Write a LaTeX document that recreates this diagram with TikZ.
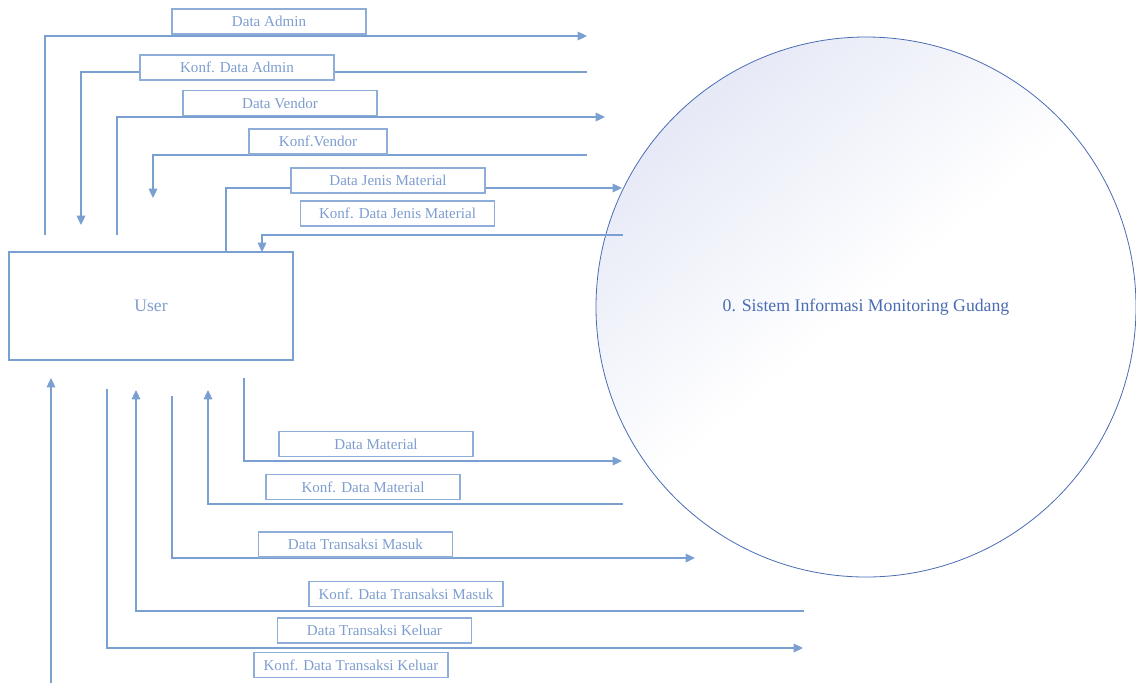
\documentclass[tikz,border=0pt]{standalone}
\usepackage{fontspec}
\setmainfont{Liberation Serif}
\usetikzlibrary{positioning,arrows.meta}
\definecolor{flowblue}{HTML}{7AA0D2}
\definecolor{textblue}{HTML}{7E9ED0}
\definecolor{procblue}{HTML}{4A6CB3}
\definecolor{procfill}{HTML}{E6E9F6}

\begin{document}
\begin{tikzpicture}[x=0.75pt,y=-0.75pt,>={Triangle[length=7pt,width=6.5pt]},
  flow/.style={draw=flowblue,line width=0.9pt},
  lbl/.style={draw=flowblue!85,fill=white,text=textblue,line width=0.8pt,
    minimum width=145.5pt,minimum height=18.75pt,inner sep=0pt,
    font=\fontsize{11.3}{13}\selectfont}]
\useasboundingbox (0,0) rectangle (1136,683);

  % Entity and process
  \node (P) [circle,draw=procblue,line width=0.6pt,minimum size=405pt,
    top color=procfill,bottom color=white,middle color=white,shading angle=40,
    text=procblue,font=\fontsize{13.3}{15}\selectfont] at (866,307)
    {0. Sistem Informasi Monitoring Gudang};
  \node (U) [draw=flowblue,line width=0.8pt,minimum width=213pt,minimum height=81pt,
    text=textblue,font=\fontsize{13.2}{15}\selectfont] at (151,306) {User};

  % End points of the flows
  \coordinate (da1) at (45,235);   \coordinate (da2) at (587,36);
  \coordinate (ka1) at (587,72);   \coordinate (ka2) at (81,225);
  \coordinate (dv1) at (117,235);  \coordinate (dv2) at (605,117);
  \coordinate (kv1) at (587,155);  \coordinate (kv2) at (153,198);
  \coordinate (dj1) at (226,252);  \coordinate (dj2) at (622,188);
  \coordinate (kj1) at (623,235);  \coordinate (kj2) at (262,252);
  \coordinate (dm1) at (244,378);  \coordinate (dm2) at (622,461);
  \coordinate (km1) at (623,504);  \coordinate (km2) at (208,390);
  \coordinate (dt1) at (172,396);  \coordinate (dt2) at (695,558);
  \coordinate (kt1) at (804,611);  \coordinate (kt2) at (136,390);
  \coordinate (dk1) at (107,389);  \coordinate (dk2) at (803,648);
  \coordinate (kk1) at (51,683);   \coordinate (kk2) at (51,378);

  % Flows
  \draw[flow,->] (da1) |- (da2);
  \draw[flow,->] (ka1) -| (ka2);
  \draw[flow,->] (dv1) |- (dv2);
  \draw[flow,->] (kv1) -| (kv2);
  \draw[flow,->] (dj1) |- (dj2);
  \draw[flow,->] (kj1) -| (kj2);
  \draw[flow,->] (dm1) |- (dm2);
  \draw[flow,->] (km1) -| (km2);
  \draw[flow,->] (dt1) |- (dt2);
  \draw[flow,->] (kt1) -| (kt2);
  \draw[flow,->] (dk1) |- (dk2);
  \draw[flow,->] (kk1) -- (kk2);

  % Labels
  \node (L1) [lbl] at (269,21.5) {Data Admin};
  \node (L2) [lbl] at (237,67.5) {Konf. Data Admin};
  \node (L3) [lbl] at (280,103) {Data Vendor};
  \node (L4) [lbl,minimum width=103.5pt] at (318,141.5) {Konf.Vendor};
  \node (L5) [lbl] at (388,180.5) {Data Jenis Material};
  \node (L6) [lbl] at (397.5,213.5) {Konf. Data Jenis Material};
  \node (L7) [lbl] at (376,444) {Data Material};
  \node (L8) [lbl] at (363,487) {Konf. Data Material};
  \node (L9) [lbl] at (355.5,544.5) {Data Transaksi Masuk};
  \node (L10) [lbl] at (406,594) {Konf. Data Transaksi Masuk};
  \node (L11) [lbl] at (374.5,630.5) {Data Transaksi Keluar};
  \node (L12) [lbl] at (351,665) {Konf. Data Transaksi Keluar};
\end{tikzpicture}
\end{document}
